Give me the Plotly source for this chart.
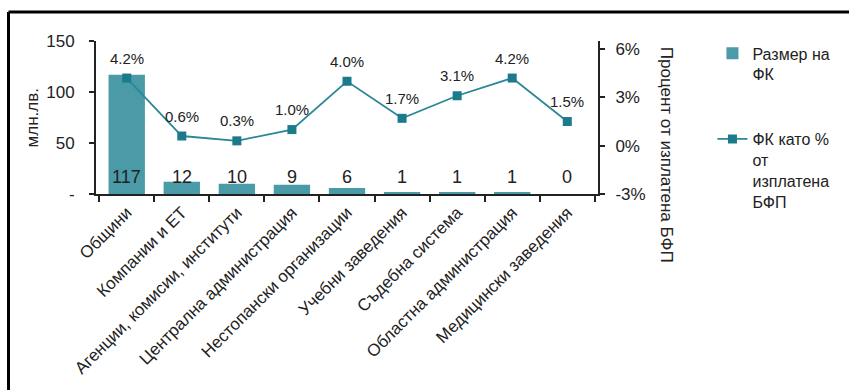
import plotly.graph_objects as go

categories = ["Общини", "Компании и ЕТ", "Агенции, комисии, институти",
              "Централна администрация", "Нестопански организации",
              "Учебни заведения", "Съдебна система", "Областна администрация",
              "Медицински заведения"]
fk_size = [117, 12, 10, 9, 6, 1, 1, 1, 0]          # млн.лв.
fk_pct = [4.2, 0.6, 0.3, 1.0, 4.0, 1.7, 3.1, 4.2, 1.5]  # %

left_ticks = [0, 50, 100, 150]
left_ticktext = ["-", "50", "100", "150"]
right_ticks = [-3, 0, 3, 6]
right_ticktext = ["-3%", "0%", "3%", "6%"]

BAR = "#4a9ba7"
LINE = "#2a8797"
MARK = "#1b7a8b"
FONT = "Liberation Sans, Arial, sans-serif"
TXT = "#222222"

fig = go.Figure()
fig.add_trace(go.Bar(
    x=categories, y=fk_size, name="Размер на<br>ФК",
    marker=dict(color=BAR, line=dict(width=0)),
    width=0.66, legendgroup="a", yaxis="y",
))
fig.add_trace(go.Scatter(
    x=categories, y=fk_pct, name="ФК като %<br>от<br>изплатена<br>БФП",
    mode="lines+markers", line=dict(color=LINE, width=1.8),
    marker=dict(symbol="square", size=9, color=MARK),
    legendgroup="b", yaxis="y2",
))

annotations = []
for c, v in zip(categories, fk_size):
    annotations.append(dict(x=c, y=0, xref="x", yref="y", text=str(v),
                            showarrow=False, yanchor="bottom", yshift=5,
                            font=dict(size=18, color=TXT, family=FONT)))
for c, p in zip(categories, fk_pct):
    annotations.append(dict(x=c, y=p, xref="x", yref="y2", text=f"{p:.1f}%",
                            showarrow=False, yanchor="middle", yshift=20,
                            font=dict(size=15, color=TXT, family=FONT)))
annotations.append(dict(x=(32 - 96) / 502, y=(197 - 120) / 156, xref="paper", yref="paper",
                        xanchor="center", yanchor="middle",
                        text="млн.лв.", textangle=-90, showarrow=False,
                        font=dict(size=17, color=TXT, family=FONT)))
annotations.append(dict(x=(666 - 96) / 502, y=(197 - 157) / 156, xref="paper", yref="paper",
                        xanchor="center", yanchor="middle",
                        text="Процент от изплатена БФП", textangle=90, showarrow=False,
                        font=dict(size=17, color=TXT, family=FONT)))

shapes = [
    dict(type="line", xref="paper", yref="paper",
         x0=(8.5 - 96) / 502, x1=1.7, y0=(197 - 11.5) / 156, y1=(197 - 11.5) / 156,
         line=dict(color="black", width=3)),
    dict(type="line", xref="paper", yref="paper",
         x0=(8.5 - 96) / 502, x1=(8.5 - 96) / 502, y0=(197 - 11.5) / 156, y1=-1.6,
         line=dict(color="black", width=3)),
]

fig.update_layout(
    width=849, height=390,
    margin=dict(l=96, r=251, t=41, b=193),
    paper_bgcolor="white", plot_bgcolor="white",
    font=dict(family=FONT, color=TXT, size=15),
    showlegend=True,
    legend=dict(x=1.228, y=1.03, xanchor="left", yanchor="top",
                traceorder="grouped", tracegroupgap=41, valign="top",
                maxheight=390,
                font=dict(size=16, color=TXT, family=FONT),
                bgcolor="rgba(0,0,0,0)"),
    xaxis=dict(showline=True, linecolor="#222", linewidth=2,
               ticks="outside", tickson="boundaries", ticklen=6, tickcolor="#222",
               tickwidth=2, tickangle=-45, tickfont=dict(size=17, color=TXT),
               showgrid=False),
    yaxis=dict(range=[0, 150], tickvals=left_ticks, ticktext=left_ticktext,
               showline=True, linecolor="#222", linewidth=2, ticks="outside",
               ticklen=5, tickcolor="#222", tickwidth=2, showgrid=False,
               zeroline=False, tickfont=dict(size=17, color=TXT), ticklabelstandoff=11),
    yaxis2=dict(range=[-3, 6.5], tickvals=right_ticks, ticktext=right_ticktext,
                overlaying="y", side="right", showline=True, linecolor="#222",
                linewidth=2, ticks="outside", ticklen=5, tickcolor="#222",
                tickwidth=2, showgrid=False, zeroline=False,
                tickfont=dict(size=17, color=TXT), ticklabelstandoff=7),
    annotations=annotations, shapes=shapes, bargap=0.34,
)

fig.write_html("out.html")
